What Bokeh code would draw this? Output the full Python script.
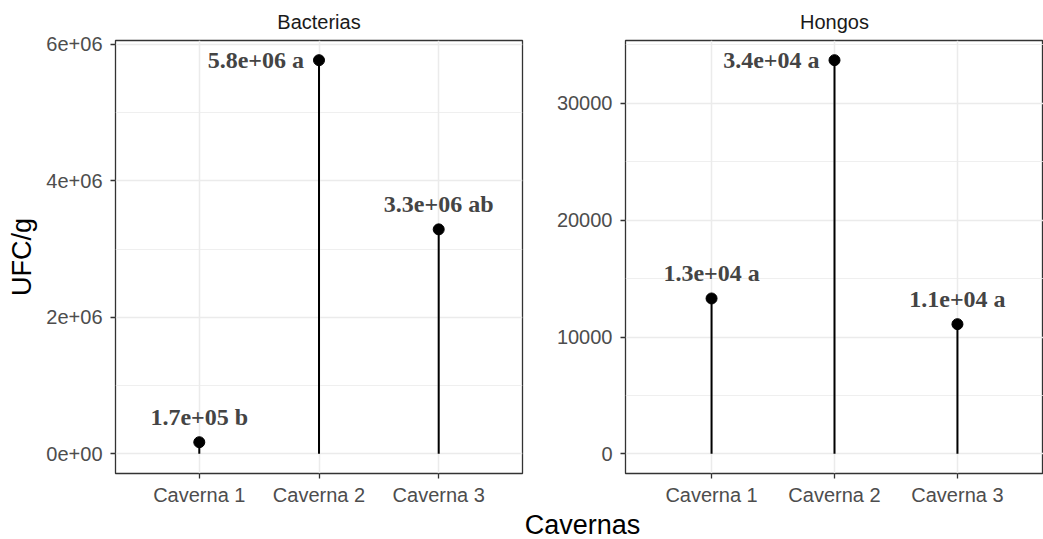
from bokeh.plotting import figure
from bokeh.layouts import row, column
from bokeh.models import ColumnDataSource, Range1d, FactorRange, FixedTicker, Label
from bokeh.core.properties import value
from bokeh.embed import file_html
from bokeh.resources import INLINE

# ---- data ----
cavernas = ["Caverna 1", "Caverna 2", "Caverna 3"]
bact_ufc = [1.7e5, 5.77e6, 3.29e6]
bact_letters = ["b", "a", "ab"]
hong_ufc = [13300, 33700, 11100]
hong_letters = ["a", "a", "a"]

bact_ticks = [0, 2000000, 4000000, 6000000]
bact_tick_labels = ["0e+00", "2e+06", "4e+06", "6e+06"]
bact_minor = [1000000, 3000000, 5000000]
hong_ticks = [0, 10000, 20000, 30000]
hong_tick_labels = ["0", "10000", "20000", "30000"]
hong_minor = [5000, 15000, 25000, 35000]

GRID = "#ebebeb"
DARK = "#333333"
TICKTXT = "#4d4d4d"
PANEL_H = 508


def panel(title, vals, letters, ticks, tick_labels, minor, width, mb_left, mb_right, ylabel=None):
    vmax = max(vals)
    p = figure(width=width, height=PANEL_H,
               x_range=FactorRange(factors=cavernas, range_padding=0.2, range_padding_units="absolute"),
               y_range=Range1d(-0.05 * vmax, 1.05 * vmax),
               output_backend="svg", toolbar_location=None,
               min_border_left=mb_left, min_border_right=mb_right,
               min_border_top=40, min_border_bottom=30)
    p.background_fill_color = "white"
    p.border_fill_color = "white"
    p.outline_line_color = DARK
    p.outline_line_width = 1.3

    p.title.text = title
    p.title.align = "center"
    p.title.text_font = "Liberation Sans"
    p.title.text_font_size = "20px"
    p.title.text_font_style = "normal"
    p.title.text_color = "#1a1a1a"
    p.title.standoff = 16

    # grids
    p.xgrid.grid_line_color = GRID
    p.xgrid.grid_line_width = 1.5
    p.ygrid.grid_line_color = GRID
    p.ygrid.grid_line_width = 1.5
    p.ygrid.minor_grid_line_color = GRID
    p.ygrid.minor_grid_line_width = 0.8

    p.yaxis.ticker = FixedTicker(ticks=ticks, minor_ticks=minor)
    p.yaxis.major_label_overrides = dict(zip(ticks, tick_labels))

    for ax in (p.xaxis[0], p.yaxis[0]):
        ax.axis_line_color = None
        ax.major_tick_line_color = DARK
        ax.major_tick_line_width = 1.3
        ax.major_tick_out = 5
        ax.major_tick_in = 0
        ax.minor_tick_line_color = None
        ax.major_label_text_font = "Liberation Sans"
        ax.major_label_text_font_size = "20px"
        ax.major_label_text_color = TICKTXT
    p.xaxis.major_label_standoff = 5
    p.yaxis.major_label_standoff = 8

    if ylabel:
        p.yaxis.axis_label = ylabel
        p.yaxis.axis_label_text_font = "Liberation Sans"
        p.yaxis.axis_label_text_font_size = "27px"
        p.yaxis.axis_label_text_font_style = "normal"
        p.yaxis.axis_label_text_color = "black"
        p.yaxis.axis_label_standoff = 6

    labels = [f"{v:.1e} {l}" for v, l in zip(vals, letters)]
    imax = vals.index(vmax)
    src = ColumnDataSource(dict(x=cavernas, y=vals, zero=[0] * len(vals), label=labels))
    p.segment(x0="x", y0="zero", x1="x", y1="y", source=src, line_color="black", line_width=2)
    p.scatter(x="x", y="y", source=src, size=11, fill_color="black", line_color="black")

    others = [i for i in range(len(vals)) if i != imax]
    src_o = ColumnDataSource(dict(x=[cavernas[i] for i in others], y=[vals[i] for i in others],
                                  label=[labels[i] for i in others]))
    src_m = ColumnDataSource(dict(x=[cavernas[imax]], y=[vals[imax]], label=[labels[imax]]))
    common = dict(text="label", text_font=value("Liberation Serif"), text_font_style="bold",
                  text_font_size="24px", text_color="#444444")
    p.text(x="x", y="y", source=src_o, text_align="center", text_baseline="bottom",
           y_offset=-12, **common)
    p.text(x="x", y="y", source=src_m, text_align="right", text_baseline="middle",
           x_offset=-15, **common)
    return p


p1 = panel("Bacterias", bact_ufc, bact_letters, bact_ticks, bact_tick_labels, bact_minor,
           540, 115, 18, ylabel="UFC/g")
p2 = panel("Hongos", hong_ufc, hong_letters, hong_ticks, hong_tick_labels, hong_minor,
           503, 85, 0)

BOT_H = 539 - PANEL_H
p3 = figure(width=1043, height=BOT_H, x_range=Range1d(0, 1043), y_range=Range1d(0, BOT_H),
            output_backend="svg", toolbar_location=None,
            min_border_left=0, min_border_right=0, min_border_top=0, min_border_bottom=0)
p3.title = None
p3.axis.visible = False
p3.grid.visible = False
p3.outline_line_color = None
p3.add_layout(Label(x=582, y=15, text="Cavernas", text_align="center", text_baseline="middle",
                    text_font="Liberation Sans", text_font_size="27px", text_color="black"))

layout = column(row(p1, p2), p3)
open("out.html", "w").write(file_html(layout, INLINE))
